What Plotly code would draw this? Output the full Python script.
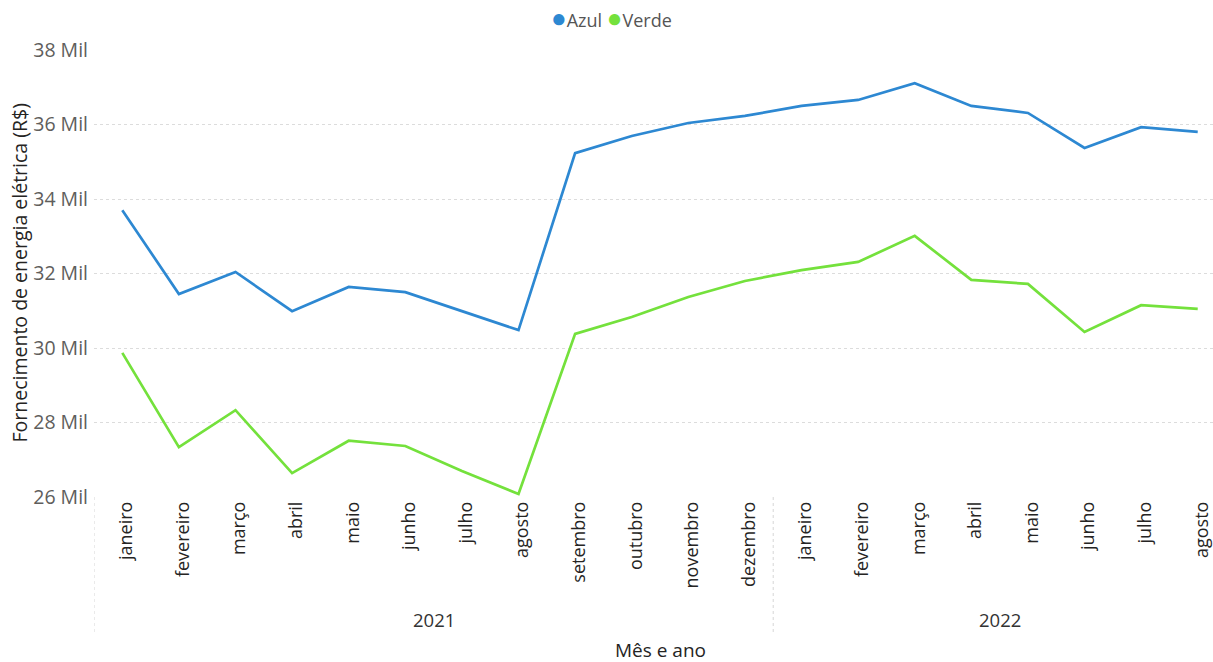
import plotly.graph_objects as go

months = ["janeiro", "fevereiro", "março", "abril", "maio", "junho", "julho", "agosto",
          "setembro", "outubro", "novembro", "dezembro",
          "janeiro", "fevereiro", "março", "abril", "maio", "junho", "julho", "agosto"]
years = ["2021", "2022"]
year_counts = [12, 8]

azul = [33.70, 31.45, 32.04, 30.99, 31.64, 31.50, 30.99, 30.48,
        35.23, 35.69, 36.04, 36.23,
        36.50, 36.66, 37.11, 36.50, 36.31, 35.37, 35.93, 35.80]
verde = [29.87, 27.34, 28.33, 26.64, 27.51, 27.37, 26.70, 26.08,
         30.38, 30.83, 31.37, 31.80,
         32.09, 32.31, 33.01, 31.83, 31.72, 30.43, 31.15, 31.05]

y_ticks = [26, 28, 30, 32, 34, 36, 38]
y_ticktext = [f"{v} Mil" for v in y_ticks]

blue = "#2D88D2"
green = "#74E13C"
FONT = "Open Sans"

W, H = 1213, 662
L, T, B = 94, 50, 165
PW, PH = W - L, H - T - B

x = list(range(len(months)))

fig = go.Figure()
fig.add_trace(go.Scatter(x=x, y=azul, mode="lines", line=dict(color=blue, width=2.7),
                         name="Azul", showlegend=False))
fig.add_trace(go.Scatter(x=x, y=verde, mode="lines", line=dict(color=green, width=2.7),
                         name="Verde", showlegend=False))

shapes = []
annotations = []
start = 0
x_left = -0.5
for yr, cnt in zip(years, year_counts):
    mid = start + (cnt - 1) / 2
    annotations.append(dict(x=mid, y=-(619 - (T + PH)) / PH, xref="x", yref="paper", text=yr,
                            showarrow=False, yanchor="middle",
                            font=dict(family=FONT, size=18.5, color="#333333")))
    start += cnt
for b in [x_left, year_counts[0] - 0.5]:
    shapes.append(dict(type="line", xref="x", yref="paper", x0=b, x1=b, y0=0,
                       y1=-(634 - (T + PH)) / PH,
                       line=dict(color="#d6d6d6", width=1, dash="dot")))

annotations.append(dict(x=(660 - L) / PW, y=-(650 - (T + PH)) / PH, xref="paper", yref="paper",
                        text="Mês e ano", showarrow=False, yanchor="middle",
                        font=dict(family=FONT, size=19, color="#252423")))
annotations.append(dict(x=-(L - 19) / PW, y=0.5, xref="paper", yref="paper",
                        text="Fornecimento de energia elétrica (R$)", textangle=-90,
                        showarrow=False, xanchor="center", yanchor="middle",
                        font=dict(family=FONT, size=19.5, color="#252423")))
# legend (compact, Power BI style)
legend_text = (f"<span style='color:{blue};font-size:26px'>●</span>Azul "
               f"<span style='color:{green};font-size:26px'>●</span>Verde")
annotations.append(dict(x=(611 - L) / PW, y=1 + (T - 17) / PH, xref="paper", yref="paper",
                        text=legend_text, showarrow=False, xanchor="center", yanchor="middle",
                        font=dict(family=FONT, size=18, color="#555555")))

fig.update_layout(
    width=W, height=H,
    margin=dict(l=L, r=0, t=T, b=B),
    paper_bgcolor="white", plot_bgcolor="white",
    font=dict(family=FONT, color="#605E5C"),
    showlegend=False,
    xaxis=dict(range=[x_left, 19.27], tickmode="array", tickvals=x, ticktext=months,
               tickangle=-90, showgrid=False, zeroline=False, showline=False, ticks="",
               ticklabelshift=4,
               tickfont=dict(family=FONT, size=18, color="#252423")),
    yaxis=dict(range=[26, 38], tickmode="array", tickvals=y_ticks, ticktext=y_ticktext,
               showgrid=True, gridcolor="#dcdcdc", griddash="dot", gridwidth=1,
               zeroline=False, showline=False, ticks="", ticklabelstandoff=5,
               tickfont=dict(family=FONT, size=19.5, color="#605E5C")),
    shapes=shapes,
    annotations=annotations,
)

fig.write_html("out.html", config={"displayModeBar": False},
               post_script="document.body.style.margin='0';document.body.style.overflow='hidden';")
